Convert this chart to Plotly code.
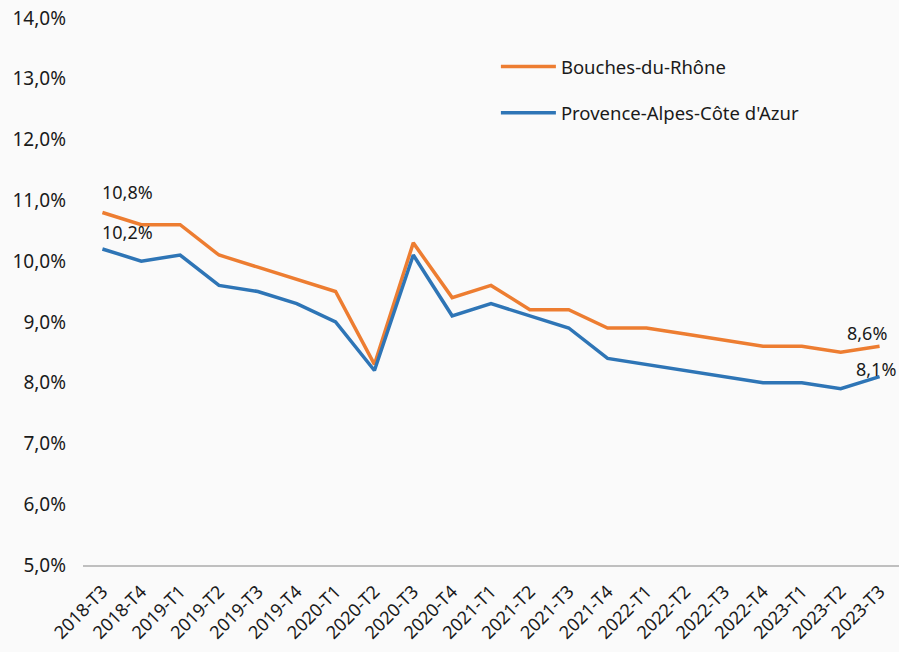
import plotly.graph_objects as go

quarters = ["2018-T3", "2018-T4", "2019-T1", "2019-T2", "2019-T3", "2019-T4",
            "2020-T1", "2020-T2", "2020-T3", "2020-T4", "2021-T1", "2021-T2",
            "2021-T3", "2021-T4", "2022-T1", "2022-T2", "2022-T3", "2022-T4",
            "2023-T1", "2023-T2", "2023-T3"]
bdr = [10.8, 10.6, 10.6, 10.1, 9.9, 9.7, 9.5, 8.3, 10.3, 9.4, 9.6, 9.2,
       9.2, 8.9, 8.9, 8.8, 8.7, 8.6, 8.6, 8.5, 8.6]
paca = [10.2, 10.0, 10.1, 9.6, 9.5, 9.3, 9.0, 8.2, 10.1, 9.1, 9.3, 9.1,
        8.9, 8.4, 8.3, 8.2, 8.1, 8.0, 8.0, 7.9, 8.1]
y_ticks = [5, 6, 7, 8, 9, 10, 11, 12, 13, 14]
y_labels = [f"{v:.1f}%".replace(".", ",") for v in y_ticks]

ORANGE = "#ED7D31"
BLUE = "#2E75B6"
FONT = "Noto Sans"
TXT = "#1a1a1a"
BG = "#FAFAFA"

fig = go.Figure()
fig.add_trace(go.Scatter(x=quarters, y=bdr, mode="lines", name="Bouches-du-Rhône",
                         line=dict(color=ORANGE, width=3.5), legendgroup="a"))
fig.add_trace(go.Scatter(x=quarters, y=paca, mode="lines", name="Provence-Alpes-Côte d'Azur",
                         line=dict(color=BLUE, width=3.5), legendgroup="b"))

def lab(v):
    return f"{v:.1f}%".replace(".", ",")

# (x, y, xanchor, xshift, yshift)
labels = [(quarters[0], bdr[0], "left", -2, 6),
          (quarters[0], paca[0], "left", -2, 3),
          (quarters[-1], bdr[-1], "right", 9, -1),
          (quarters[-1], paca[-1], "right", 18, -6)]
for xi, yi, xa, dx, dy in labels:
    fig.add_annotation(x=xi, y=yi, text=lab(yi), showarrow=False,
                       yanchor="bottom", xanchor=xa, xshift=dx, yshift=dy,
                       font=dict(family=FONT, size=18, color=TXT))

fig.update_layout(
    width=899, height=652,
    margin=dict(l=83, r=0, t=18, b=87),
    paper_bgcolor=BG, plot_bgcolor=BG,
    font=dict(family=FONT, size=18, color=TXT),
    legend=dict(x=0.506, y=0.945, xanchor="left", yanchor="top",
                bgcolor="rgba(0,0,0,0)", traceorder="grouped",
                tracegroupgap=19, itemwidth=55,
                font=dict(family=FONT, size=18.5, color=TXT)),
    xaxis=dict(type="category", range=[-0.5, 20.5], tickangle=-45,
               showline=True, linecolor="#BFBFBF", linewidth=2,
               showgrid=False, ticks="", tickfont=dict(size=18),
               ticklabelstandoff=7, automargin=False),
    yaxis=dict(range=[5, 14], tickvals=y_ticks, ticktext=y_labels,
               showgrid=False, zeroline=False, showline=False, ticks="",
               ticklabelstandoff=16, tickfont=dict(size=19),
               automargin=False),
)

fig.write_html("out.html", config={"displayModeBar": False},
               post_script="document.body.style.margin='0';"
                           "document.body.style.background='" + BG + "';")
